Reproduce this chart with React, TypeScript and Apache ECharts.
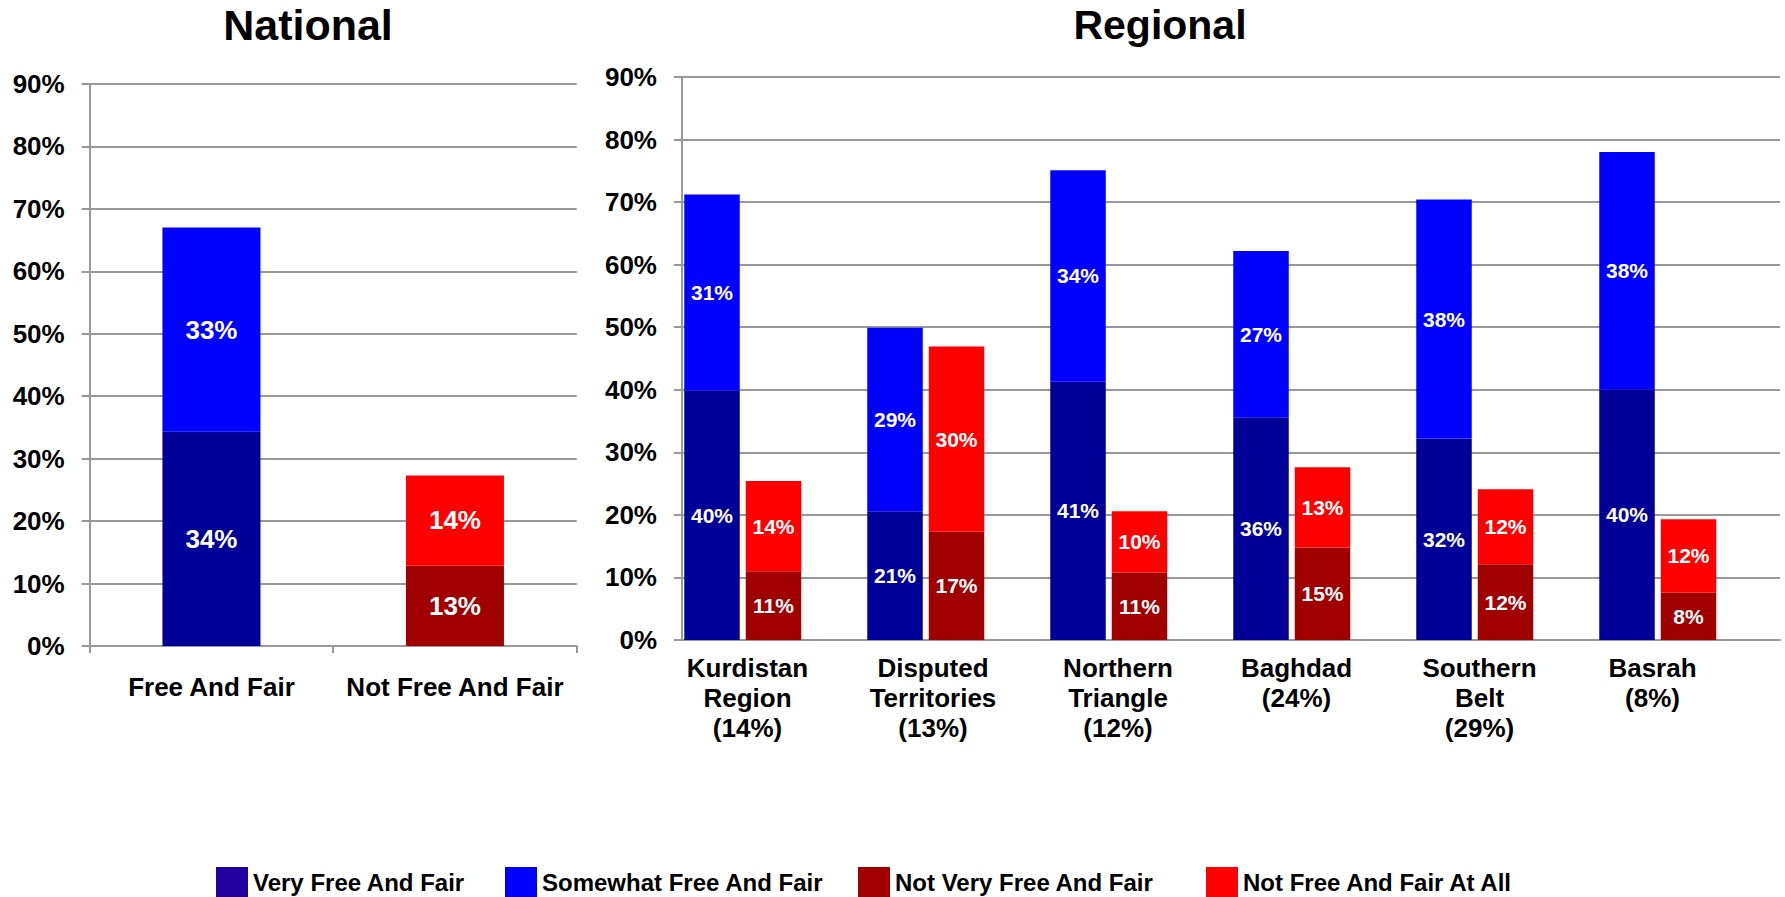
import React, { useEffect, useRef } from "react";
import * as echarts from "echarts";

// ---------- data ----------
const nationalCategories = ["Free And Fair", "Not Free And Fair"];
const nationalVeryFree = [34.3, null];
const nationalSomewhatFree = [32.7, null];
const nationalNotVeryFree = [null, 12.9];
const nationalNotFreeAtAll = [null, 14.4];

const regionalCategories = [
  "Kurdistan\nRegion\n(14%)",
  "Disputed\nTerritories\n(13%)",
  "Northern\nTriangle\n(12%)",
  "Baghdad\n(24%)",
  "Southern\nBelt\n(29%)",
  "Basrah\n(8%)",
];
const regionalVeryFree = [39.9, 20.6, 41.3, 35.6, 32.2, 40.1];
const regionalSomewhatFree = [31.3, 29.3, 33.8, 26.6, 38.2, 37.9];
const regionalNotVeryFree = [11.0, 17.3, 10.8, 14.8, 12.1, 7.6];
const regionalNotFreeAtAll = [14.4, 29.6, 9.8, 12.8, 12.0, 11.7];
const regionalSpacer = [null, null, null, null, null, null];

const seriesNames = [
  "Very Free And Fair",
  "Somewhat Free And Fair",
  "Not Very Free And Fair",
  "Not Free And Fair At All",
];

const yMin = 0;
const yMax = 90;
const yStep = 10;

// ---------- styles ----------
const FONT = "'Liberation Sans', Arial, Helvetica, sans-serif";
const colors = ["#000099", "#0000FF", "#A00000", "#FF0000"];
const legendColors = ["#2000A0", "#0000FF", "#A00000", "#FF0000"];
const legendLefts = [216, 505, 858, 1206];
const regionalLabelShift = [26, 23.5, 21.5, 26, 26, 36];
const GRID = "#989898";

export default function App() {
  const ref = useRef<HTMLDivElement>(null);

  useEffect(() => {
    if (!ref.current) return;
    const chart = echarts.init(ref.current, null, { renderer: "svg" });

    const pct = (p: any) =>
      p.value === null || p.value === undefined ? "" : Math.round(p.value) + "%";

    const yAxisBase = (gridIndex: number) => ({
      type: "value",
      gridIndex,
      min: yMin,
      max: yMax,
      interval: yStep,
      axisLine: { show: true, lineStyle: { color: GRID, width: 2 } },
      axisTick: { show: true, length: 8, lineStyle: { color: GRID, width: 2 } },
      splitLine: { show: true, lineStyle: { color: GRID, width: 2 } },
      axisLabel: {
        formatter: "{value}%",
        fontFamily: FONT,
        fontSize: 26,
        fontWeight: "bold",
        color: "#000",
        margin: 25,
      },
    });

    const rich: any = {};
    regionalLabelShift.forEach((s, i) => {
      rich["c" + i] = {
        fontFamily: FONT,
        fontSize: 26,
        fontWeight: "bold",
        color: "#000",
        lineHeight: 30,
        padding: [0, 2 * s, 0, 0],
      };
    });

    const nationalSeriesData = [
      nationalVeryFree,
      nationalSomewhatFree,
      nationalNotVeryFree,
      nationalNotFreeAtAll,
    ];
    const regionalSeriesData = [
      regionalVeryFree,
      regionalSomewhatFree,
      regionalNotVeryFree,
      regionalNotFreeAtAll,
    ];

    const series: any[] = [];
    nationalSeriesData.forEach((d, i) => {
      series.push({
        type: "bar",
        name: seriesNames[i],
        xAxisIndex: 0,
        yAxisIndex: 0,
        stack: "national",
        barWidth: 98,
        data: d,
        itemStyle: { color: colors[i] },
        label: {
          show: true,
          position: "inside",
          formatter: pct,
          color: "#fff",
          fontFamily: FONT,
          fontSize: 26,
          fontWeight: "bold",
        },
      });
    });
    regionalSeriesData.forEach((d, i) => {
      series.push({
        type: "bar",
        name: seriesNames[i],
        xAxisIndex: 1,
        yAxisIndex: 1,
        stack: i < 2 ? "free" : "notfree",
        barWidth: 55.5,
        barGap: "10.8%",
        data: d,
        itemStyle: { color: colors[i] },
        label: {
          show: true,
          position: "inside",
          formatter: pct,
          color: "#fff",
          fontFamily: FONT,
          fontSize: 21,
          fontWeight: "bold",
        },
      });
    });
    series.push({
      type: "bar",
      name: "spacer",
      xAxisIndex: 1,
      yAxisIndex: 1,
      stack: "spacer",
      barWidth: 55.5,
      barGap: "10.8%",
      data: regionalSpacer,
      silent: true,
    });

    chart.setOption({
      animation: false,
      backgroundColor: "#ffffff",
      graphic: [
        {
          type: "text",
          x: 308,
          y: 25,
          style: {
            text: "National",
            fontFamily: FONT,
            fontSize: 43,
            fontWeight: "bold",
            fill: "#000",
            textAlign: "center",
            textVerticalAlign: "middle",
          },
        },
        {
          type: "text",
          x: 1160,
          y: 25,
          style: {
            text: "Regional",
            fontFamily: FONT,
            fontSize: 41,
            fontWeight: "bold",
            fill: "#000",
            textAlign: "center",
            textVerticalAlign: "middle",
          },
        },
      ],
      legend: seriesNames.map((n, i) => ({
        left: legendLefts[i],
        top: 867,
        padding: 0,
        itemWidth: 32,
        itemHeight: 30,
        itemGap: 0,
        icon: "rect",
        selectedMode: false,
        data: [{ name: n, itemStyle: { color: legendColors[i] } }],
        textStyle: {
          fontFamily: FONT,
          fontSize: 24,
          fontWeight: "bold",
          color: "#000",
        },
      })),
      grid: [
        { left: 89.7, top: 84, width: 487, height: 562, containLabel: false },
        { left: 682, top: 77, width: 1098, height: 563, containLabel: false },
      ],
      xAxis: [
        {
          type: "category",
          gridIndex: 0,
          data: nationalCategories,
          axisLine: { show: true, lineStyle: { color: GRID, width: 2 } },
          axisTick: {
            show: true,
            length: 7,
            alignWithLabel: false,
            lineStyle: { color: GRID, width: 2 },
          },
          axisLabel: {
            interval: 0,
            margin: 28,
            fontFamily: FONT,
            fontSize: 26,
            fontWeight: "bold",
            color: "#000",
          },
        },
        {
          type: "category",
          gridIndex: 1,
          data: regionalCategories,
          axisLine: { show: true, lineStyle: { color: GRID, width: 2 } },
          axisTick: { show: false },
          axisLabel: {
            interval: 0,
            margin: 13,
            formatter: (value: string, index: number) =>
              value
                .split("\n")
                .map((l) => `{c${index}|${l}}`)
                .join("\n"),
            rich,
          },
        },
      ],
      yAxis: [yAxisBase(0), yAxisBase(1)],
      series,
    });

    return () => chart.dispose();
  }, []);

  return (
    <div
      ref={ref}
      style={{
        position: "fixed",
        left: 0,
        top: 0,
        width: 1785,
        height: 897,
        background: "#fff",
      }}
    />
  );
}
